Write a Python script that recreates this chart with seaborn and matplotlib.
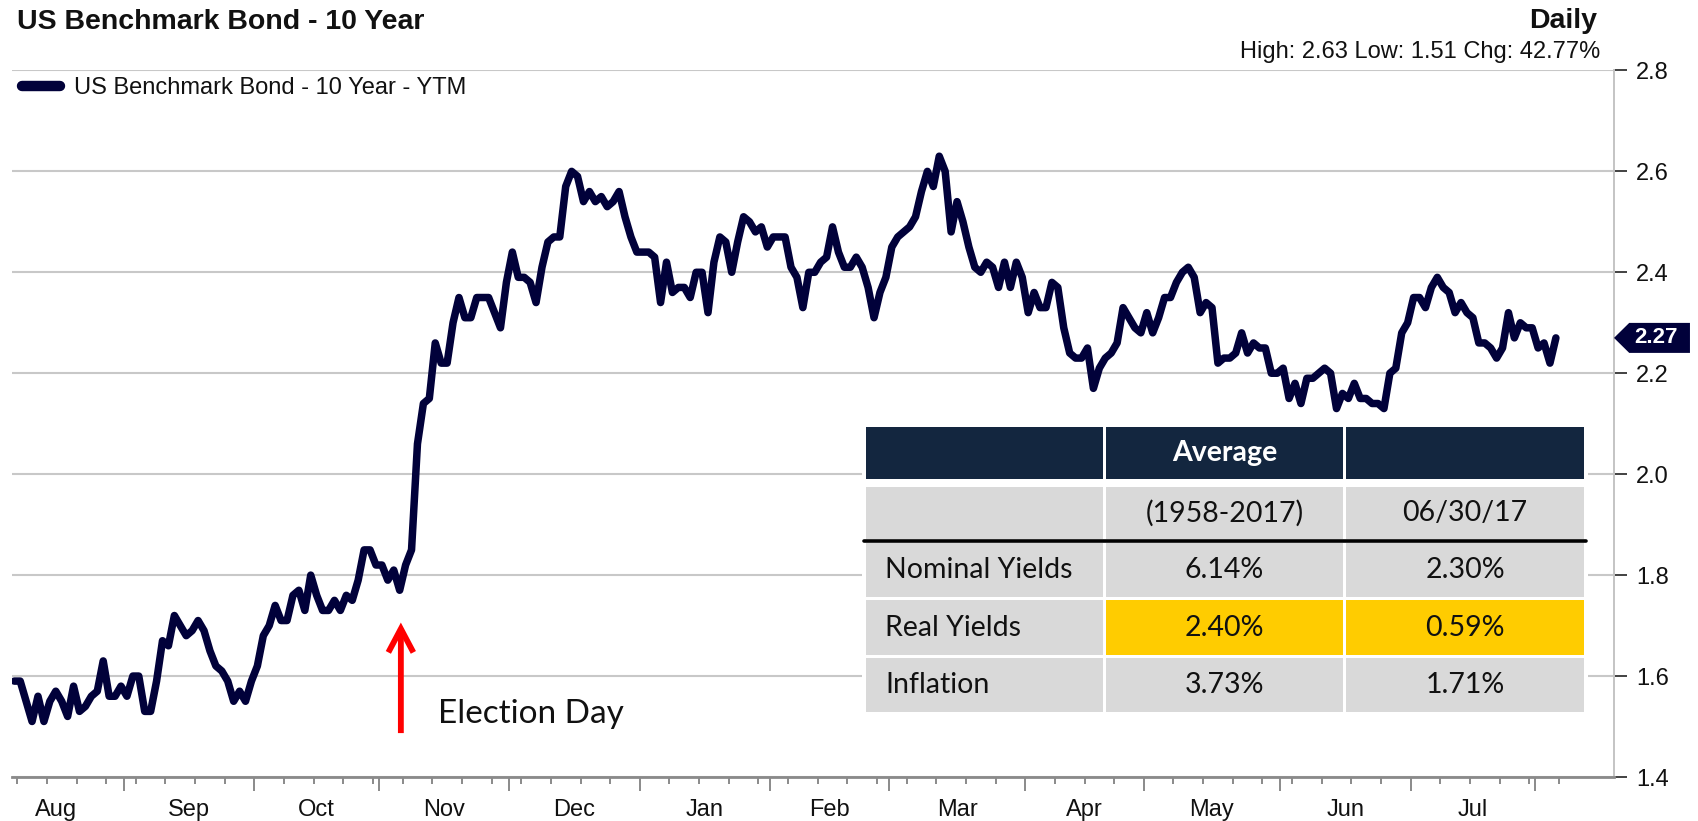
import numpy as np
import pandas as pd
import matplotlib
matplotlib.use("Agg")
import matplotlib.pyplot as plt
import seaborn as sns
from matplotlib.lines import Line2D
from matplotlib.patches import Rectangle, Polygon

# ---------------- data (daily 10Y yield, one value per weekday) ----------------
aug_2016 = [1.59, 1.59, 1.55, 1.51, 1.56, 1.51, 1.55, 1.57, 1.55, 1.52, 1.58, 1.53, 1.54, 1.56, 1.57, 1.63, 1.56, 1.56, 1.58]
sep_2016 = [1.56, 1.60, 1.60, 1.53, 1.53, 1.59, 1.67, 1.66, 1.72, 1.70, 1.68, 1.69, 1.71, 1.69, 1.65, 1.62, 1.61, 1.59, 1.55, 1.57, 1.55, 1.59]
oct_2016 = [1.62, 1.68, 1.70, 1.74, 1.71, 1.71, 1.76, 1.77, 1.73, 1.80, 1.76, 1.73, 1.73, 1.75, 1.73, 1.76, 1.75, 1.79, 1.85, 1.85, 1.82]
nov_2016 = [1.82, 1.79, 1.81, 1.77, 1.82, 1.85, 2.06, 2.14, 2.15, 2.26, 2.22, 2.22, 2.30, 2.35, 2.31, 2.31, 2.35, 2.35, 2.35, 2.32, 2.29, 2.38]
dec_2016 = [2.44, 2.39, 2.39, 2.38, 2.34, 2.41, 2.46, 2.47, 2.47, 2.57, 2.60, 2.59, 2.54, 2.56, 2.54, 2.55, 2.53, 2.54, 2.56, 2.51, 2.47, 2.44]
jan_2017 = [2.44, 2.44, 2.43, 2.34, 2.42, 2.36, 2.37, 2.37, 2.35, 2.40, 2.40, 2.32, 2.42, 2.47, 2.46, 2.40, 2.46, 2.51, 2.50, 2.48, 2.49, 2.45]
feb_2017 = [2.47, 2.47, 2.47, 2.41, 2.39, 2.33, 2.40, 2.40, 2.42, 2.43, 2.49, 2.44, 2.41, 2.41, 2.43, 2.41, 2.37, 2.31, 2.36, 2.39]
mar_2017 = [2.45, 2.47, 2.48, 2.49, 2.51, 2.56, 2.60, 2.57, 2.63, 2.60, 2.48, 2.54, 2.50, 2.45, 2.41, 2.40, 2.42, 2.41, 2.37, 2.42, 2.37, 2.42, 2.39]
apr_2017 = [2.32, 2.36, 2.33, 2.33, 2.38, 2.37, 2.29, 2.24, 2.23, 2.23, 2.25, 2.17, 2.21, 2.23, 2.24, 2.26, 2.33, 2.31, 2.29, 2.28]
may_2017 = [2.32, 2.28, 2.31, 2.35, 2.35, 2.38, 2.40, 2.41, 2.39, 2.32, 2.34, 2.33, 2.22, 2.23, 2.23, 2.24, 2.28, 2.24, 2.26, 2.25, 2.25, 2.20, 2.20]
jun_2017 = [2.21, 2.15, 2.18, 2.14, 2.19, 2.19, 2.20, 2.21, 2.20, 2.13, 2.16, 2.15, 2.18, 2.15, 2.15, 2.14, 2.14, 2.13, 2.20, 2.21, 2.28, 2.30]
jul_2017 = [2.35, 2.35, 2.33, 2.37, 2.39, 2.37, 2.36, 2.32, 2.34, 2.32, 2.31, 2.26, 2.26, 2.25, 2.23, 2.25, 2.32, 2.27, 2.30, 2.29, 2.29]
aug_2017 = [2.25, 2.26, 2.22, 2.27]

start_date, end_date = "2016-08-05", "2017-08-04"
month_labels = ["Aug", "Sep", "Oct", "Nov", "Dec", "Jan", "Feb", "Mar", "Apr", "May", "Jun", "Jul"]
month_firsts = ["2016-08-01", "2016-09-01", "2016-10-01", "2016-11-01", "2016-12-01", "2017-01-01",
                "2017-02-01", "2017-03-01", "2017-04-01", "2017-05-01", "2017-06-01", "2017-07-01",
                "2017-08-01"]
y_ticks = [1.4, 1.6, 1.8, 2.0, 2.2, 2.4, 2.6, 2.8]

title = "US Benchmark Bond - 10 Year"
series_name = "US Benchmark Bond - 10 Year - YTM"
freq_label = "Daily"
election_label = "Election Day"
election_pos = 65.2

table_header = ["", "Average", ""]
table_sub = ["", "(1958-2017)", "06/30/17"]
row_labels = ["Nominal Yields", "Real Yields", "Inflation"]
avg_col = ["6.14%", "2.40%", "3.73%"]
cur_col = ["2.30%", "0.59%", "1.71%"]
highlight_row = "Real Yields"

values = (aug_2016 + sep_2016 + oct_2016 + nov_2016 + dec_2016 + jan_2017 + feb_2017 +
          mar_2017 + apr_2017 + may_2017 + jun_2017 + jul_2017 + aug_2017)
dates = pd.bdate_range(start_date, end_date)
df = pd.DataFrame({"date": dates, "pos": np.arange(len(dates)), "ytm": values})

# ---------------- style ----------------
NAVY = "#01013a"
HEAD = "#13263f"
GRAY_CELL = "#d9d9d9"
YELLOW = "#ffcc00"

sns.set_theme(style="white")
plt.rcParams["font.family"] = ["Liberation Sans", "DejaVu Sans"]

W, H = 1699, 821
fig = plt.figure(figsize=(W / 100, H / 100), dpi=100)

def fx(x):
    return x / W

def fy(y):
    return 1 - y / H

ax = fig.add_axes([fx(11.6), fy(777), (1614 - 11.6) / W, (777 - 70.4) / H])
sns.lineplot(data=df, x="pos", y="ytm", ax=ax, color=NAVY, linewidth=5.4, legend=False)
for ln in ax.lines:
    ln.set_solid_joinstyle("round")
    ln.set_solid_capstyle("round")

ax.set_xlim(-0.45, 269.8)
ax.set_ylim(1.4, 2.8)
ax.set_xlabel("")
ax.set_ylabel("")

# grid & spines
ax.yaxis.grid(True, color="#c8c8c8", linewidth=1.5)
ax.xaxis.grid(False)
ax.set_axisbelow(True)
for s in ["top", "left"]:
    ax.spines[s].set_visible(False)
ax.spines["right"].set_color("#c4c4c4")
ax.spines["right"].set_linewidth(1.4)
ax.spines["bottom"].set_color("#8a8a8a")
ax.spines["bottom"].set_linewidth(2)

# x ticks: month boundaries (long) and week boundaries (short)
d0 = np.datetime64(start_date)
mf = np.array(month_firsts, dtype="datetime64[D]")
m_off = np.busday_count(d0, mf)  # weekday offsets of month starts
month_bounds = m_off[1:] - 0.5
month_centers = (m_off[:-1] + m_off[1:]) / 2 - 0.5
mondays = df.loc[df["date"].dt.dayofweek == 0, "pos"].to_numpy()
week_bounds = np.append(mondays - 0.5, df["pos"].iloc[-1] + 0.5)
ax.set_xticks(month_bounds)
ax.set_xticks(week_bounds, minor=True)
ax.set_xticklabels([])
ax.tick_params(axis="x", which="major", bottom=True, direction="out", length=10,
               width=1.4, color="#8a8a8a")
ax.tick_params(axis="x", which="minor", bottom=True, direction="out", length=5,
               width=1.4, color="#8a8a8a")
xt = ax.get_xaxis_transform()
for c, lab in zip(month_centers, month_labels):
    ax.text(c, -0.046, lab, transform=xt, ha="center", va="center", fontsize=17, color="#111111")

# y ticks on the right
ax.yaxis.tick_right()
ax.set_yticks(y_ticks)
ax.set_yticklabels([f"{v:.1f}" for v in y_ticks])
ax.tick_params(axis="y", which="major", left=False, right=True, direction="out", length=9,
               width=1.3, color="#333333", pad=7, labelsize=17, labelcolor="#111111")

# last value badge
last = values[-1]
yt = ax.get_yaxis_transform()
hh = 15 / 504.7
badge = Polygon([(1.0, last), (1.0095, last + hh), (1.0474, last + hh), (1.0474, last - hh),
                 (1.0095, last - hh)], closed=True, transform=yt, facecolor=NAVY,
                edgecolor="none", clip_on=False, zorder=5)
ax.add_patch(badge)
ax.text(1.0265, last, f"{last:.2f}", transform=yt, ha="center", va="center", fontsize=16,
        fontweight="bold", color="white", clip_on=False, zorder=6)

# election day annotation
ax.annotate("", xy=(election_pos, 1.706), xytext=(election_pos, 1.487),
            arrowprops=dict(arrowstyle="->,head_length=0.85,head_width=0.45", mutation_scale=20,
                            color="#ff0000", lw=4.2, shrinkA=0, shrinkB=0,
                            capstyle="butt", joinstyle="miter"))
ax.text(71.4, 1.507, election_label, ha="left", va="baseline", fontsize=24,
        family=["Lato", "DejaVu Sans"], color="#111111")

# header texts
hi, lo = max(values), min(values)
chg = (values[-1] / values[0] - 1) * 100
fig.text(fx(17), fy(22), title, fontsize=20.5, fontweight="bold", ha="left", va="center", color="#111111")
fig.text(fx(1597), fy(21), freq_label, fontsize=20.5, fontweight="bold", ha="right", va="center", color="#111111")
fig.text(fx(1600), fy(52), f"High: {hi:.2f} Low: {lo:.2f} Chg: {chg:.2f}%", fontsize=17,
         ha="right", va="center", color="#111111")

# legend
handle = Line2D([], [], color=NAVY, lw=7.5, solid_capstyle="round")
ax.legend([handle], [series_name], loc="center left", bbox_to_anchor=(fx(22), fy(88)),
          bbox_transform=fig.transFigure, frameon=False, fontsize=17, handlelength=1.6,
          handletextpad=0.62, borderpad=0, borderaxespad=0, labelcolor="#111111")

# table
def rect(x0, y0, x1, y1, color, z=2):
    fig.add_artist(Rectangle((fx(x0), fy(y1)), (x1 - x0) / W, (y1 - y0) / H,
                             transform=fig.transFigure, facecolor=color, edgecolor="none", zorder=z))

cols = [(866, 1103), (1106, 1343), (1346, 1584)]
rows = [(426.7, 479.3), (487, 539), (543, 597), (600, 655), (658, 712)]
rect(862, 423, 1588, 715, "white", z=1.5)
for (x0, x1) in cols:
    rect(x0, rows[0][0], x1, rows[0][1], HEAD)
    rect(x0, rows[1][0], x1, rows[1][1], GRAY_CELL)
for r, lab in enumerate(row_labels):
    y0, y1 = rows[2 + r]
    for ci, (x0, x1) in enumerate(cols):
        c = YELLOW if (lab == highlight_row and ci > 0) else GRAY_CELL
        rect(x0, y0, x1, y1, c)
fig.add_artist(Line2D([fx(864), fx(1586)], [fy(540.8), fy(540.8)], color="black", lw=2.6,
                      transform=fig.transFigure, zorder=3))

TF = ["Lato", "DejaVu Sans"]
def cy(r):
    return (rows[r][0] + rows[r][1]) / 2

for ci, (x0, x1) in enumerate(cols):
    xc = (x0 + x1) / 2
    if table_header[ci]:
        fig.text(fx(xc), fy(cy(0)), table_header[ci], ha="center", va="center", fontsize=20.5,
                 fontweight="bold", color="white", family=TF, zorder=4)
    if table_sub[ci]:
        fig.text(fx(xc), fy(cy(1)), table_sub[ci], ha="center", va="center", fontsize=20.5,
                 color="#111111", family=TF, zorder=4)
for r, lab in enumerate(row_labels):
    yc = cy(2 + r)
    fig.text(fx(885), fy(yc), lab, ha="left", va="center", fontsize=20.5, color="#111111", family=TF, zorder=4)
    fig.text(fx((cols[1][0] + cols[1][1]) / 2), fy(yc), avg_col[r], ha="center", va="center",
             fontsize=20.5, color="#111111", family=TF, zorder=4)
    fig.text(fx((cols[2][0] + cols[2][1]) / 2), fy(yc), cur_col[r], ha="center", va="center",
             fontsize=20.5, color="#111111", family=TF, zorder=4)

fig.savefig("out.png", dpi=100, facecolor="white")
